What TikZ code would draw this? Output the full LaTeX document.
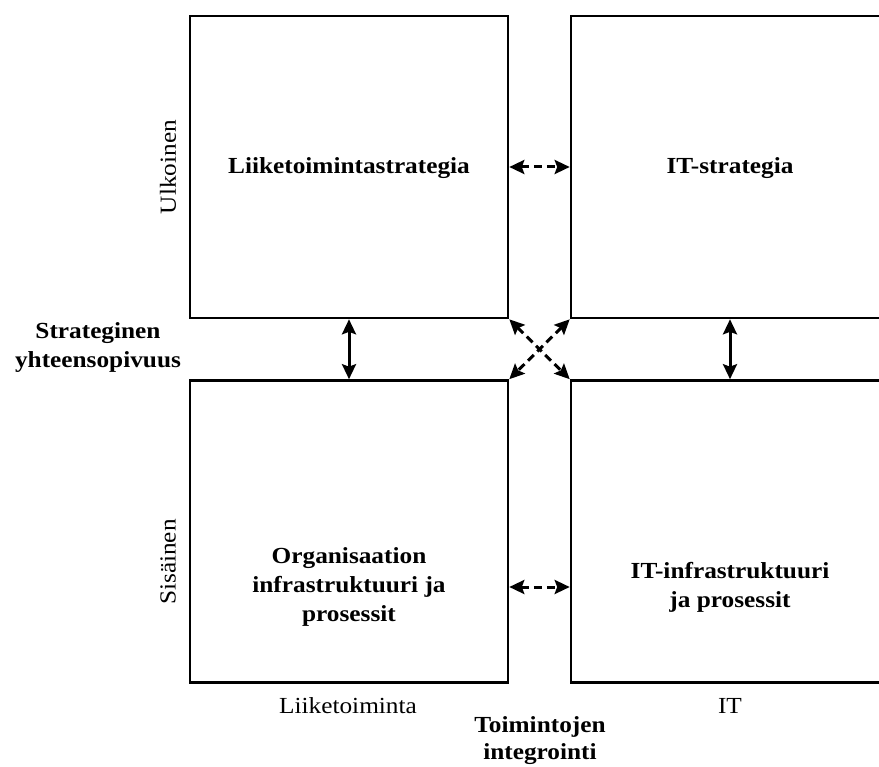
\documentclass[tikz,border=0pt]{standalone}
\usepackage{fontspec}
\setmainfont{Liberation Serif}[FakeStretch=1.1]
\usetikzlibrary{arrows.meta}

\tikzset{
  quad/.style={draw=black, line width=2.6pt, minimum width=318pt, minimum height=302pt, inner sep=0pt},
  quadopen/.style={quad, minimum width=340pt},
  boxtext/.style={font=\fontsize{23}{29}\selectfont\bfseries, align=center, inner sep=0pt},
  sidetext/.style={font=\fontsize{23}{29}\selectfont, align=center, inner sep=0pt},
  tip/.tip={Stealth[length=15pt,width=14pt,inset=2.5pt]},
  linkarrow/.style={line width=3pt, tip-tip},
  dasharrow/.style={linkarrow, dash pattern=on 8pt off 5pt}
}

\begin{document}
\begin{tikzpicture}[x=1pt, y=-1pt]
  \useasboundingbox (0,0) rectangle (879,767);
  \clip (0,0) rectangle (879,767);

  % the four quadrants; the right-hand ones run off the right edge
  \node[quad]     (tl) at (349,167)   {};
  \node[quad]     (bl) at (349,531.5) {};
  \node[quadopen] (tr) at (741,167)   {};
  \node[quadopen] (br) at (741,531.5) {};

  % quadrant titles
  \node[boxtext] (tltext) at (349,168) {Liiketoimintastrategia};
  \node[boxtext] (trtext) at (730,168) {IT-strategia};
  \node[boxtext] (bltext) at (349,587) {Organisaation\\infrastruktuuri ja\\prosessit};
  \node[boxtext] (brtext) at (730,587) {IT-infrastruktuuri\\ja prosessit};

  % axis labels
  \node[sidetext, rotate=90] (ulk) at (168,167) {Ulkoinen};
  \node[sidetext, rotate=90] (sis) at (168,562) {Sisäinen};
  \node[sidetext] (liik) at (348,706) {Liiketoiminta};
  \node[sidetext] (it)   at (730,706) {IT};
  \node[boxtext] (fit) at (98,348) {Strateginen\\yhteensopivuus};
  \node[boxtext, font=\fontsize{23}{27}\selectfont\bfseries] (integ) at (540,741) {Toimintojen\\integrointi};

  % strategic fit (vertical)
  \draw[linkarrow] (tl.south) -- (bl.north);
  \draw[linkarrow] (trtext |- tr.south) -- (trtext |- br.north);

  % functional integration (horizontal)
  \draw[dasharrow] (tl.east) -- (tr.west);
  \draw[dasharrow] (bl.east |- bltext) -- (br.west |- bltext);

  % cross-domain links
  \draw[dasharrow] (tl.south east) -- (br.north west);
  \draw[dasharrow] (tr.south west) -- (bl.north east);
\end{tikzpicture}
\end{document}
